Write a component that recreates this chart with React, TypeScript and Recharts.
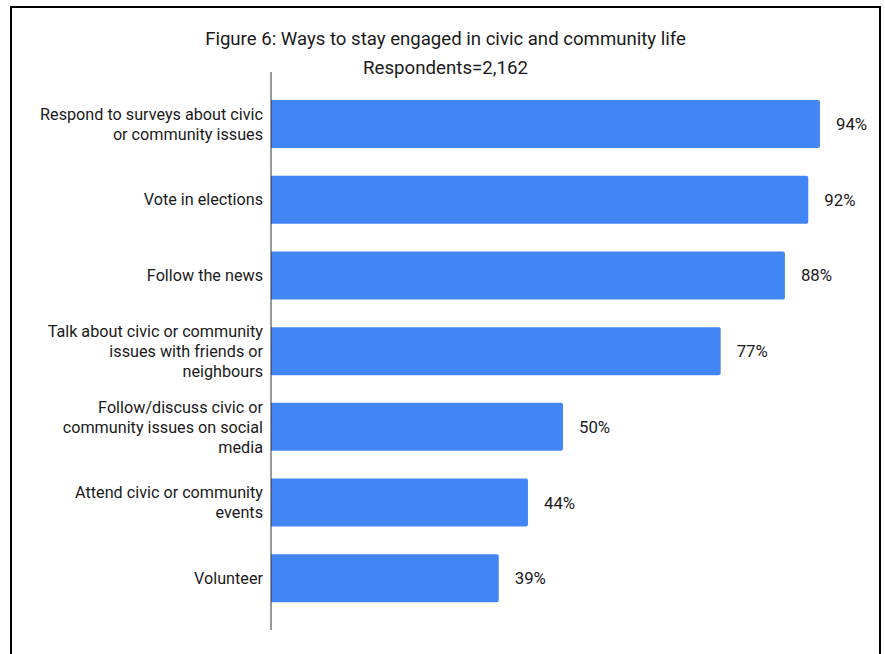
import React from "react";
import { BarChart, Bar, XAxis, YAxis, LabelList } from "recharts";

const categories = [
  "Respond to surveys about civic\nor community issues",
  "Vote in elections",
  "Follow the news",
  "Talk about civic or community\nissues with friends or\nneighbours",
  "Follow/discuss civic or\ncommunity issues on social\nmedia",
  "Attend civic or community\nevents",
  "Volunteer",
];
const values = [94, 92, 88, 77, 50, 44, 39];
const title = "Figure 6: Ways to stay engaged in civic and community life";
const subtitle = "Respondents=2,162";

const data = categories.map((name, i) => ({ name, value: values[i] }));

const FONT = "Roboto, 'Noto Sans', Arial, sans-serif";

const CategoryTick = (props: any) => {
  const { x, y, payload } = props;
  const lines = String(payload.value).split("\n");
  const lh = 20;
  const start = y - ((lines.length - 1) * lh) / 2;
  const tx = x + 6;
  return (
    <text
      x={tx}
      y={start}
      textAnchor="end"
      fill="#1a1a1a"
      fontSize={16.2}
      fontFamily={FONT}
    >
      {lines.map((l: string, i: number) => (
        <tspan key={i} x={tx} y={start + i * lh} dy="0.36em">
          {l}
        </tspan>
      ))}
    </text>
  );
};

export default function App() {
  return (
    <div
      style={{
        position: "absolute",
        left: 0,
        top: 0,
        width: 885,
        height: 654,
        overflow: "hidden",
        background: "#fff",
        fontFamily: FONT,
      }}
    >
      <div
        style={{
          position: "absolute",
          left: 10,
          top: 6,
          width: 867,
          height: 700,
          border: "2px solid #000",
        }}
      />
      <div
        style={{
          position: "absolute",
          left: 0,
          width: 891,
          top: 27,
          textAlign: "center",
          fontSize: 18.6,
          color: "#1a1a1a",
          lineHeight: "24px",
        }}
      >
        {title}
      </div>
      <div
        style={{
          position: "absolute",
          left: 0,
          width: 891,
          top: 56,
          textAlign: "center",
          fontSize: 18.7,
          color: "#1a1a1a",
          lineHeight: "24px",
        }}
      >
        {subtitle}
      </div>
      <div style={{ position: "absolute", left: 0, top: 0 }}>
        <BarChart
          width={885}
          height={654}
          data={data}
          layout="vertical"
          margin={{ top: 72, right: 30, bottom: 24, left: 0 }}
        >
          <XAxis type="number" domain={[0, 100]} hide />
          <YAxis
            type="category"
            dataKey="name"
            width={271}
            axisLine={{ stroke: "#333", strokeWidth: 1 }}
            tickLine={false}
            tick={<CategoryTick />}
            tickMargin={8}
            padding={{ top: 14, bottom: 14 }}
            interval={0}
          />
          <Bar
            dataKey="value"
            fill="#4285F4"
            barSize={48}
            radius={[0, 2, 2, 0]}
            isAnimationActive={false}
          >
            <LabelList
              dataKey="value"
              position="right"
              offset={16}
              formatter={(v: any) => `${v}%`}
              fill="#1a1a1a"
              fontSize={16.8}
              fontFamily={FONT}
            />
          </Bar>
        </BarChart>
      </div>
    </div>
  );
}
